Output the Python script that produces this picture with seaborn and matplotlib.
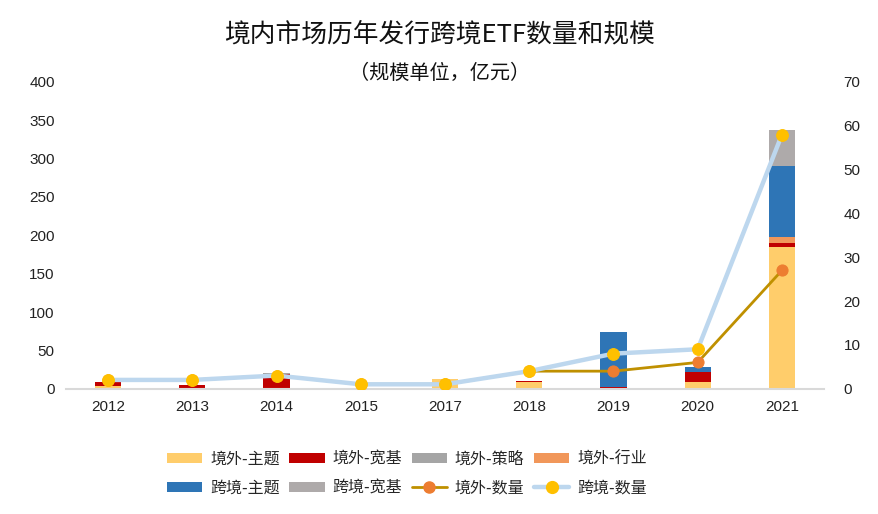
import matplotlib
matplotlib.use("Agg")
import matplotlib.pyplot as plt
import seaborn as sns
import pandas as pd
import numpy as np
from matplotlib.patches import Patch
from matplotlib.lines import Line2D

# 数据
years = ['2012', '2013', '2014', '2015', '2017', '2018', '2019', '2020', '2021']
jw_zhuti = [3, 0, 0, 0, 12, 9, 0, 9, 185]       # 境外-主题
jw_kuanji = [6, 5, 19, 0, 0, 1.5, 2.5, 13, 5.6]  # 境外-宽基
jw_celue = [0, 0, 1, 0, 0, 0, 0, 0, 0]           # 境外-策略
jw_hangye = [0, 0, 0, 0, 0, 0, 0, 0, 7.4]        # 境外-行业
kj_zhuti = [0, 0, 0, 0, 0, 0, 72, 6.5, 93]       # 跨境-主题
kj_kuanji = [0, 0, 0, 0, 0, 0, 0, 0, 46]         # 跨境-宽基
jw_count = [2, 2, 3, 1, 1, 4, 4, 6, 27]          # 境外-数量
kj_count = [2, 2, 3, 1, 1, 4, 8, 9, 58]          # 跨境-数量

bar_names = ['境外-主题', '境外-宽基', '境外-策略', '境外-行业', '跨境-主题', '跨境-宽基']
bar_colors = ['#FFCD6B', '#C00000', '#A5A5A5', '#F1975A', '#2E75B6', '#AEAAAA']

sns.set_theme(style="white")
plt.rcParams['font.family'] = ['Noto Sans CJK SC', 'DejaVu Sans']

fig = plt.figure(figsize=(8.79, 5.14), dpi=100)
ax = fig.add_axes([0.075, 0.2438, 0.8625, 0.5967])

series = [jw_zhuti, jw_kuanji, jw_celue, jw_hangye, kj_zhuti, kj_kuanji]
cum = np.cumsum(np.array(series), axis=0)
# 先画最高的累计值，再逐层覆盖
for i in range(len(series) - 1, -1, -1):
    sns.barplot(x=years, y=cum[i], color=bar_colors[i], width=0.31,
                saturation=1, ax=ax, zorder=2, linewidth=0, edgecolor='none')

ax.set_ylim(0, 400)
ax.set_yticks(range(0, 401, 50))
ax.set_xlim(-0.5, 8.5)
ax.set_xlabel('')
ax.set_ylabel('')
for s in ['top', 'right', 'left']:
    ax.spines[s].set_visible(False)
ax.spines['bottom'].set_color('#D9D9D9')
ax.spines['bottom'].set_linewidth(1.5)
ax.tick_params(axis='both', length=0, labelsize=11, pad=8)

ax2 = ax.twinx()
xpos = np.arange(len(years))
sns.lineplot(x=xpos, y=jw_count, ax=ax2, color='#BF9000', linewidth=2,
             marker='o', markersize=8, markerfacecolor='#ED7D31',
             markeredgecolor='#ED7D31', zorder=3)
sns.lineplot(x=xpos, y=kj_count, ax=ax2, color='#BDD7EE', linewidth=3.2,
             marker='o', markersize=8.5, markerfacecolor='#FFC000',
             markeredgecolor='#FFC000', zorder=4)
ax2.set_ylim(0, 70)
ax2.set_yticks(range(0, 71, 10))
ax2.set_xlim(-0.5, 8.5)
for s in ['top', 'right', 'left', 'bottom']:
    ax2.spines[s].set_visible(False)
ax2.tick_params(axis='y', length=0, labelsize=11, pad=14)
ax2.set_ylabel('')

for lab in ax.get_xticklabels() + ax.get_yticklabels() + ax2.get_yticklabels():
    lab.set_family(['Liberation Sans', 'DejaVu Sans'])
    lab.set_color('#222222')

fig.text(0.5, 0.933, '境内市场历年发行跨境ETF数量和规模', ha='center', va='center',
         fontsize=18.5, color='#111111')
fig.text(0.5, 0.858, '（规模单位，亿元）', ha='center', va='center',
         fontsize=14.5, color='#111111')

# 图例
handles = [Patch(facecolor=c, edgecolor='none') for c in bar_colors]
handles.append(Line2D([], [], color='#BF9000', lw=2, marker='o', markersize=8,
                      markerfacecolor='#ED7D31', markeredgecolor='#ED7D31'))
handles.append(Line2D([], [], color='#BDD7EE', lw=3.2, marker='o', markersize=8.5,
                      markerfacecolor='#FFC000', markeredgecolor='#FFC000'))
labels = bar_names + ['境外-数量', '跨境-数量']
order = [0, 4, 1, 5, 2, 6, 3, 7]
fig.legend([handles[i] for i in order], [labels[i] for i in order],
           loc='center', bbox_to_anchor=(0.463, 0.079), ncol=4, frameon=False,
           fontsize=11.5, handlelength=2.2, handleheight=0.55,
           columnspacing=0.6, handletextpad=0.5, labelspacing=0.75)

fig.savefig('out.png', dpi=100)
